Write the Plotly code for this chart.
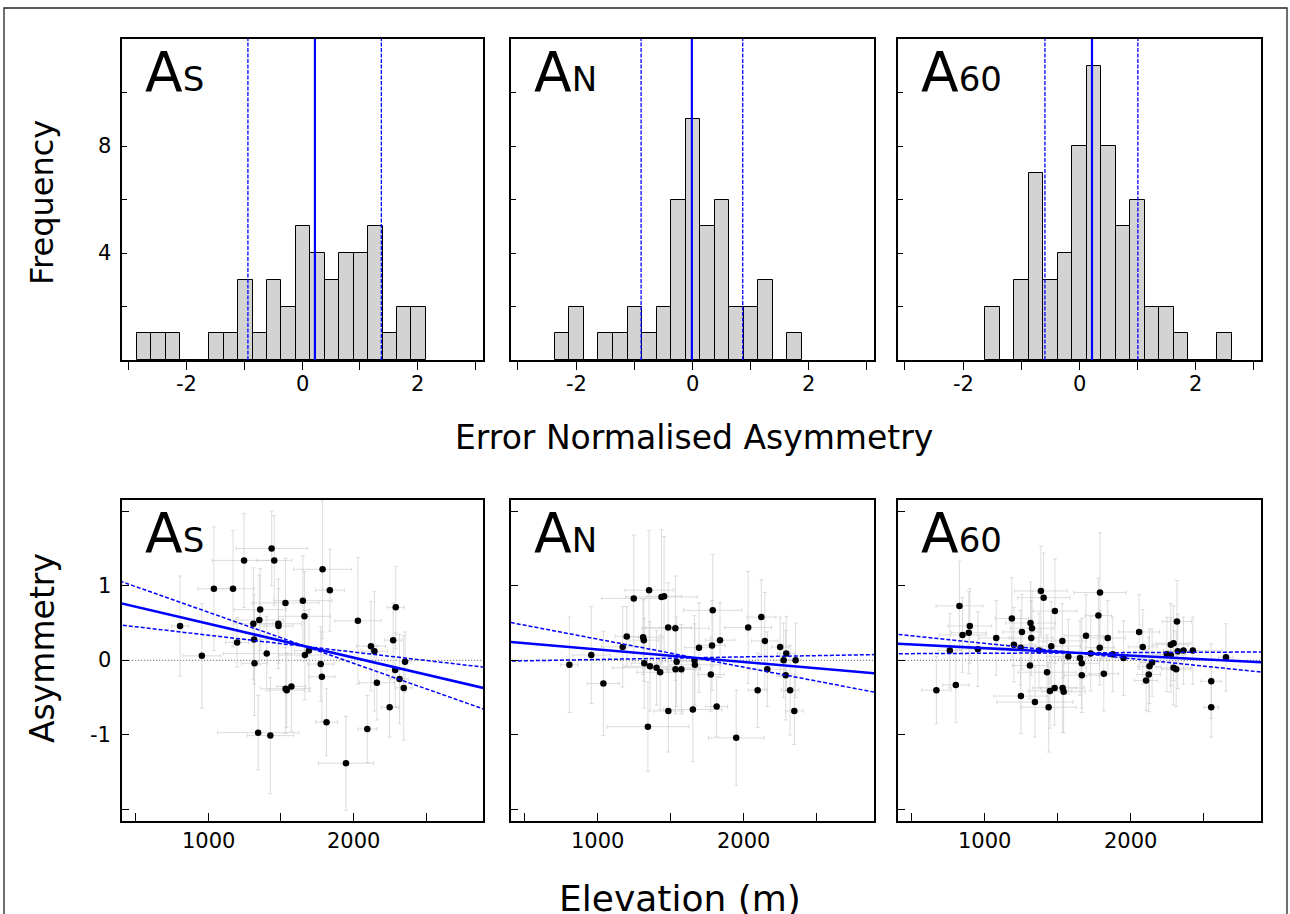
import plotly.graph_objects as go

# ---------------- data ----------------
panel_names = ["S", "N", "60"]

# histograms of error-normalised asymmetry (bin width 0.25)
bin_width = 0.25
hist_start = [-2.86, -2.364, -1.62]
hist_counts_S = [1, 1, 1, 0, 0, 1, 1, 3, 1, 3, 2, 5, 4, 3, 4, 4, 5, 1, 2, 2]
hist_counts_N = [1, 2, 0, 1, 1, 2, 1, 2, 6, 9, 5, 6, 2, 2, 3, 0, 1]
hist_counts_60 = [2, 0, 3, 7, 3, 4, 8, 11, 8, 5, 6, 2, 2, 1, 0, 0, 1]
# mean and +/- spread lines
hist_mean = [0.22, -0.006, 0.22]
hist_low = [-0.94, -0.88, -0.59]
hist_high = [1.37, 0.87, 1.01]

# stations used for A_S and A_N
elev_sn = [805, 955, 1038, 1170, 1198, 1246, 1310, 1315, 1318, 1343, 1351, 1357, 1402, 1427,
           1436, 1454, 1482, 1483, 1531, 1532, 1540, 1572, 1651, 1662, 1665, 1693, 1774, 1782,
           1787, 1814, 1837, 1948, 2030, 2095, 2120, 2144, 2161, 2249, 2273, 2287, 2291, 2317,
           2346, 2355]
elev_err_sn = [60, 130, 110, 145, 80, 220, 135, 100, 90, 280, 165, 180, 300, 160,
               245, 120, 160, 100, 230, 170, 120, 100, 200, 180, 180, 100, 90, 90,
               200, 75, 100, 190, 160, 65, 100, 90, 120, 60, 60, 60, 60, 60,
               60, 40]
asym_S = [0.46, 0.06, 0.96, 0.96, 0.24, 1.34, 0.49, 0.28, -0.04, -0.97, 0.54, 0.68, 0.09, -1.01,
          1.50, 1.34, 0.49, 0.46, 0.77, -0.38, -0.40, -0.35, 0.80, 0.59, 0.07, 0.13, -0.05, -0.22,
          1.22, -0.83, 0.94, -1.38, 0.53, -0.92, 0.19, 0.12, -0.30, -0.63, 0.27, -0.13, 0.71, -0.25,
          -0.37, -0.02]
asym_err_S = [0.67, 0.70, 0.83, 0.78, 0.33, 0.63, 0.75, 0.6, 0.7, 0.5, 0.6, 0.55, 0.5, 0.78,
              0.5, 0.6, 0.6, 0.5, 0.6, 0.6, 0.5, 0.6, 0.6, 0.6, 0.6, 0.55, 0.5, 0.6,
              0.93, 0.45, 0.55, 0.63, 0.85, 0.45, 0.6, 0.8, 0.5, 0.4, 0.5, 0.5, 0.55, 0.6,
              0.7, 0.4]
asym_N = [-0.06, 0.07, -0.31, 0.18, 0.32, 0.83, 0.31, 0.27, -0.04, -0.89, 0.94, -0.08, -0.10, -0.16,
          0.85, 0.86, 0.44, -0.68, 0.43, -0.12, -0.02, -0.12, -0.66, 0.00, -0.06, 0.17, -0.19, 0.20,
          0.67, -0.62, 0.27, -1.04, 0.44, -0.40, 0.58, 0.26, -0.12, 0.18, 0.00, -0.20, 0.09, -0.40,
          -0.68, 0.00]
asym_err_N = [0.64, 0.65, 0.7, 0.54, 0.4, 0.85, 0.5, 0.55, 0.6, 0.6, 0.8, 0.6, 0.5, 0.5,
              0.9, 0.8, 0.6, 0.55, 0.7, 0.6, 0.6, 0.6, 0.7, 0.6, 0.55, 0.6, 0.5, 0.6,
              0.75, 0.4, 0.5, 0.64, 0.75, 0.5, 0.5, 0.65, 0.5, 0.4, 0.5, 0.6, 0.5, 0.6,
              0.45, 0.5]

# stations used for A_60
elev_60 = [668, 760, 801, 826, 847, 890, 897, 952, 1078, 1185, 1199, 1247, 1245, 1254, 1309, 1313,
           1318, 1323, 1343, 1371, 1384, 1403, 1426, 1437, 1446, 1455, 1478, 1480, 1531, 1533, 1540,
           1572, 1652, 1664, 1664, 1693, 1725, 1778, 1787, 1789, 1815, 1842, 1876, 1950, 2057, 2082,
           2105, 2123, 2128, 2146, 2247, 2274, 2274, 2293, 2293, 2311, 2316, 2322, 2361, 2425, 2551,
           2551, 2652]
elev_err_60 = [100, 80, 90, 160, 160, 120, 150, 150, 115, 115, 150, 185, 150, 130, 120, 170,
               150, 150, 260, 200, 180, 180, 200, 190, 150, 200, 150, 150, 165, 150, 150,
               150, 150, 120, 120, 150, 150, 90, 100, 180, 100, 120, 100, 150, 140, 100,
               80, 80, 80, 80, 100, 120, 100, 120, 120, 100, 100, 100, 100, 200, 70,
               50, 50]
asym_60 = [-0.40, 0.13, -0.33, 0.73, 0.34, 0.37, 0.46, 0.15, 0.30, 0.56, 0.21, -0.48, 0.17, 0.38, -0.07, 0.50,
           0.30, 0.43, -0.56, 0.13, 0.93, 0.84, -0.16, -0.63, -0.41, 0.19, -0.37, 0.66, 0.26, -0.37, -0.42,
           0.05, 0.03, -0.04, -0.20, 0.33, 0.09, 0.60, 0.17, 0.91, -0.18, 0.30, 0.08, 0.03, 0.38, 0.18,
           -0.27, -0.19, -0.08, -0.03, 0.08, 0.21, 0.07, 0.23, -0.10, -0.12, 0.52, 0.12, 0.13, 0.13, -0.28,
           -0.63, 0.04]
asym_err_60 = [0.45, 0.5, 0.5, 0.6, 0.5, 0.55, 0.5, 0.5, 0.5, 0.55, 0.5, 0.5, 0.5, 0.5, 0.45, 0.55,
               0.5, 0.5, 0.47, 0.5, 0.6, 0.6, 0.5, 0.6, 0.5, 0.6, 0.5, 0.7, 0.5, 0.6, 0.55,
               0.5, 0.5, 0.6, 0.5, 0.55, 0.5, 0.5, 0.5, 0.8, 0.5, 0.5, 0.5, 0.5, 0.5, 0.5,
               0.4, 0.5, 0.5, 0.45, 0.5, 0.55, 0.5, 0.5, 0.5, 0.5, 0.55, 0.5, 0.45, 0.45, 0.5,
               0.4, 0.45]

# linear fits: pivot point, best slope and slope bounds (per metre)
fit_pivot_x = [1672, 1665, 1625]
fit_pivot_y = [0.185, 0.034, 0.100]
fit_slope = [-4.55e-4, -1.68e-4, -1.006e-4]
fit_slope_a = [-6.85e-4, -3.75e-4, -2.03e-4]
fit_slope_b = [-2.26e-4, 3.47e-5, 9.2e-6]

hist_ticks = [-3, -2, -1, 0, 1, 2, 3]
hist_ticktext = ["", "-2", "", "0", "", "2", ""]
freq_ticks = [2, 4, 6, 8, 10]
freq_ticktext = ["", "4", "", "8", ""]
elev_ticks = [500, 1000, 1500, 2000, 2500]
elev_ticktext = ["", "1000", "", "2000", ""]
asym_ticks = [-2, -1, 0, 1, 2]
asym_ticktext = ["", "-1", "0", "1", ""]

# ---------------- layout helpers ----------------
W, H = 1290, 914
FONT = "DejaVu Sans"
col_px = [(122, 483), (511, 874), (898, 1261)]
top_px = (39, 360)
bot_px = (500, 821)
x_elev_range = [405, 2892]


def xd(a, b):
    return [a / W, b / W]


def yd(top, bottom):
    return [1 - bottom / H, 1 - top / H]


fig = go.Figure()
hist_counts = [hist_counts_S, hist_counts_N, hist_counts_60]
elevs = [elev_sn, elev_sn, elev_60]
elev_errs = [elev_err_sn, elev_err_sn, elev_err_60]
asyms = [asym_S, asym_N, asym_60]
asym_errs = [asym_err_S, asym_err_N, asym_err_60]

layout_axes = {}
annotations = []
BLUE = "#0000ff"
TICKFONT = dict(family=FONT, size=21, color="black")

for i in range(3):
    ht = i + 1
    bt = i + 4
    hx = "x" if ht == 1 else f"x{ht}"
    hy = "y" if ht == 1 else f"y{ht}"
    bx = f"x{bt}"
    by = f"y{bt}"

    counts = hist_counts[i]
    centers = [hist_start[i] + bin_width * (k + 0.5) for k in range(len(counts))]
    fig.add_trace(go.Bar(x=centers, y=counts, width=bin_width, xaxis=hx, yaxis=hy,
                         marker=dict(color="#d3d3d3", line=dict(color="black", width=1)),
                         showlegend=False))
    for v, dash, lw in [(hist_low[i], "4px,1.5px", 1.3), (hist_high[i], "4px,1.5px", 1.3),
                        (hist_mean[i], "solid", 2.2)]:
        fig.add_trace(go.Scatter(x=[v, v], y=[0, 12], mode="lines", xaxis=hx, yaxis=hy,
                                 line=dict(color=BLUE, width=lw, dash=dash), showlegend=False))

    fig.add_trace(go.Scatter(x=[0, 3000], y=[0, 0], mode="lines", xaxis=bx, yaxis=by,
                             line=dict(color="black", width=0.7, dash="1px,2px"), showlegend=False))
    fig.add_trace(go.Scatter(
        x=elevs[i], y=asyms[i], mode="markers", xaxis=bx, yaxis=by,
        marker=dict(color="black", size=6.5),
        error_x=dict(type="data", array=elev_errs[i], color="rgba(205,205,205,0.7)", thickness=1, width=2),
        error_y=dict(type="data", array=asym_errs[i], color="rgba(205,205,205,0.7)", thickness=1, width=2),
        showlegend=False))
    xs = [0, 3000]
    for slope, dash, lw in [(fit_slope_a[i], "4px,2px", 1.5), (fit_slope_b[i], "4px,2px", 1.5),
                            (fit_slope[i], "solid", 2.5)]:
        ys = [fit_pivot_y[i] + slope * (x - fit_pivot_x[i]) for x in xs]
        fig.add_trace(go.Scatter(x=xs, y=ys, mode="lines", xaxis=bx, yaxis=by,
                                 line=dict(color=BLUE, width=lw, dash=dash), showlegend=False))

    c0, c1 = col_px[i]
    common = dict(showline=True, mirror=True, linecolor="black", linewidth=1.5,
                  showgrid=False, zeroline=False, tickcolor="black", tickwidth=1.2,
                  showticklabels=False)
    hxa = "xaxis" if ht == 1 else f"xaxis{ht}"
    hya = "yaxis" if ht == 1 else f"yaxis{ht}"
    layout_axes[hxa] = dict(domain=xd(c0, c1), range=[-3.12, 3.13], anchor=hy,
                            tickmode="array", tickvals=hist_ticks,
                            ticks="outside", ticklen=8, **common)
    layout_axes[hya] = dict(domain=yd(*top_px), range=[0, 12], anchor=hx,
                            tickmode="array", tickvals=freq_ticks,
                            ticks="inside", ticklen=5, **common)
    layout_axes[f"xaxis{bt}"] = dict(domain=xd(c0, c1), range=x_elev_range, anchor=by,
                                     tickmode="array", tickvals=elev_ticks,
                                     ticks="inside", ticklen=8, **common)
    layout_axes[f"yaxis{bt}"] = dict(domain=yd(*bot_px), range=[-2.155, 2.15], anchor=bx,
                                     tickmode="array", tickvals=asym_ticks,
                                     ticks="inside", ticklen=7, **common)

    # tick labels placed through the axes' own coordinates
    for v, t in zip(hist_ticks, hist_ticktext):
        if t:
            annotations.append(dict(text=t, xref=hx, yref="paper", x=v, y=1 - 384 / H,
                                    xanchor="center", yanchor="middle", showarrow=False,
                                    font=TICKFONT))
    for v, t in zip(elev_ticks, elev_ticktext):
        if t:
            annotations.append(dict(text=t, xref=bx, yref="paper", x=v, y=1 - 841 / H,
                                    xanchor="center", yanchor="middle", showarrow=False,
                                    font=TICKFONT))
    if i == 0:
        for v, t in zip(freq_ticks, freq_ticktext):
            if t:
                annotations.append(dict(text=t, xref="paper", yref=hy, x=113 / W, y=v,
                                        xanchor="right", yanchor="middle", showarrow=False,
                                        font=TICKFONT))
        for v, t in zip(asym_ticks, asym_ticktext):
            if t:
                annotations.append(dict(text=t, xref="paper", yref=by, x=113 / W, y=v,
                                        xanchor="right", yanchor="middle", showarrow=False,
                                        font=TICKFONT))

    label = f"A<span style='font-size:34px'>{panel_names[i]}</span>"
    for top in (top_px[0], bot_px[0]):
        annotations.append(dict(text=label, xref="paper", yref="paper",
                                x=(c0 + 21) / W, y=1 - (top + 33) / H,
                                xanchor="left", yanchor="middle", showarrow=False,
                                font=dict(family=FONT, size=55, color="black")))

annotations += [
    dict(text="Frequency", xref="paper", yref="paper", x=42 / W, y=1 - 203 / H, textangle=-90,
         showarrow=False, xanchor="center", yanchor="middle",
         font=dict(family=FONT, size=32, color="black")),
    dict(text="Asymmetry", xref="paper", yref="paper", x=42 / W, y=1 - 648 / H, textangle=-90,
         showarrow=False, xanchor="center", yanchor="middle",
         font=dict(family=FONT, size=33, color="black")),
    dict(text="Error Normalised Asymmetry", xref="paper", yref="paper", x=694 / W, y=1 - 437 / H,
         showarrow=False, xanchor="center", yanchor="middle",
         font=dict(family=FONT, size=33, color="black")),
    dict(text="Elevation (m)", xref="paper", yref="paper", x=680 / W, y=1 - 898 / H,
         showarrow=False, xanchor="center", yanchor="middle",
         font=dict(family=FONT, size=36, color="black")),
]

fig.update_layout(
    width=W, height=H, margin=dict(l=0, r=0, t=0, b=0),
    paper_bgcolor="white", plot_bgcolor="white", bargap=0,
    annotations=annotations,
    shapes=[dict(type="rect", xref="paper", yref="paper", x0=4 / W, x1=1287 / W,
                 y0=-0.05, y1=1 - 8 / H, line=dict(color="#222", width=1.3))],
    **layout_axes,
)

fig.write_html("out.html", config={"displayModeBar": False},
               post_script="document.body.style.margin='0';document.body.style.overflow='hidden';")
